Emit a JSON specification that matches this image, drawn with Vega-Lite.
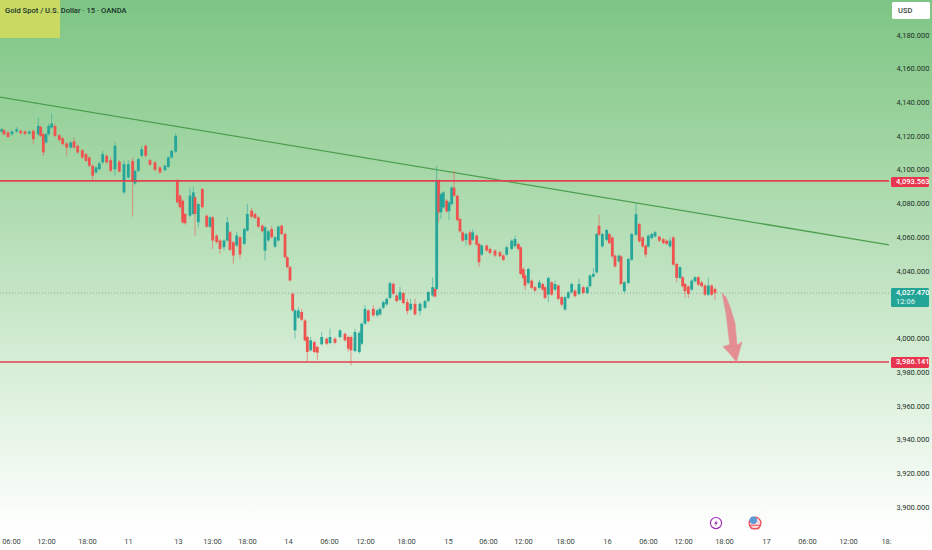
{
  "$schema": "https://vega.github.io/schema/vega-lite/v6.json",
  "autosize": {"type": "none"},
  "width": 932,
  "height": 550,
  "padding": 0,
  "background": "#ffffff",
  "view": {"stroke": null},
  "config": {"font": "Roboto"},
  "datasets": {
    "candles": [
      {"t":1,"o":4122.8,"h":4125.2,"l":4121.8,"c":4124.2},{"t":2.4,"o":4123.6,"h":4124.6,"l":4120.4,"c":4121.2},{"t":4.8,"o":4122.2,"h":4123.2,"l":4118.8,"c":4119.6},{"t":7.2,"o":4121.2,"h":4123.6,"l":4120.2,"c":4122.8},{"t":10,"o":4122.8,"h":4125.4,"l":4122,"c":4124.2},{"t":12.4,"o":4123.2,"h":4124,"l":4121,"c":4121.8},{"t":15,"o":4122.8,"h":4123.6,"l":4120.6,"c":4121.4},{"t":17.6,"o":4121.6,"h":4123.6,"l":4120.8,"c":4122.8},{"t":20,"o":4123.2,"h":4124,"l":4115.3,"c":4118.2},{"t":23,"o":4121.2,"h":4131,"l":4120.4,"c":4126.1},{"t":24.4,"o":4125.5,"h":4126.5,"l":4119.4,"c":4120.2},{"t":26,"o":4121.2,"h":4122,"l":4108.4,"c":4110.4},{"t":27.6,"o":4116.3,"h":4122,"l":4115.5,"c":4121.2},{"t":29.2,"o":4121.2,"h":4127.5,"l":4120.4,"c":4126.1},{"t":31,"o":4125.1,"h":4133.4,"l":4124.3,"c":4127.5},{"t":33,"o":4126.1,"h":4127.5,"l":4119.4,"c":4120.2},{"t":35.6,"o":4120.6,"h":4121.4,"l":4116.9,"c":4117.7},{"t":37.6,"o":4118.8,"h":4119.6,"l":4114.5,"c":4115.3},{"t":40,"o":4115.7,"h":4116.5,"l":4108.4,"c":4113.3},{"t":42.4,"o":4113.3,"h":4117.1,"l":4112.5,"c":4116.3},{"t":44.4,"o":4116.9,"h":4119.2,"l":4112.5,"c":4113.3},{"t":46.6,"o":4114.3,"h":4115.1,"l":4109.6,"c":4110.4},{"t":49.4,"o":4111.7,"h":4112.5,"l":4106.6,"c":4107.4},{"t":51.6,"o":4109.4,"h":4110.2,"l":4104.6,"c":4105.4},{"t":53.6,"o":4107.4,"h":4108.2,"l":4101.7,"c":4102.5},{"t":55.6,"o":4102.5,"h":4103.3,"l":4093.6,"c":4096.6},{"t":57.6,"o":4098.5,"h":4102.3,"l":4097.7,"c":4101.5},{"t":59.6,"o":4100.5,"h":4104.7,"l":4099.7,"c":4103.9},{"t":61.6,"o":4104.5,"h":4111.3,"l":4103.7,"c":4109.4},{"t":64,"o":4108.4,"h":4109.2,"l":4103.7,"c":4104.5},{"t":66.4,"o":4105.8,"h":4107.4,"l":4098.7,"c":4099.5},{"t":69,"o":4100.5,"h":4116.3,"l":4096.6,"c":4114.3},{"t":71.6,"o":4105,"h":4105.8,"l":4098.3,"c":4099.1},{"t":74.4,"o":4086.7,"h":4105.4,"l":4085.9,"c":4103.5},{"t":77,"o":4095.6,"h":4105.8,"l":4094.8,"c":4103.5},{"t":79.6,"o":4105.4,"h":4107.4,"l":4072.3,"c":4093.6},{"t":81,"o":4092,"h":4100.3,"l":4091.2,"c":4099.5},{"t":83,"o":4099.5,"h":4107.2,"l":4098.7,"c":4106.4},{"t":85,"o":4108.4,"h":4114.3,"l":4107.6,"c":4112.3},{"t":87.4,"o":4114.3,"h":4115.3,"l":4107.6,"c":4108.4},{"t":90,"o":4105.8,"h":4106.6,"l":4102.3,"c":4103.1},{"t":93,"o":4104.5,"h":4105.3,"l":4099.3,"c":4100.1},{"t":96,"o":4101.5,"h":4102.3,"l":4097.7,"c":4098.5},{"t":99,"o":4099.9,"h":4103.3,"l":4099.1,"c":4102.5},{"t":101,"o":4101.9,"h":4108.2,"l":4101.1,"c":4107.4},{"t":103,"o":4107.4,"h":4112.1,"l":4106.6,"c":4111.3},{"t":105.4,"o":4110.9,"h":4121.5,"l":4110.1,"c":4120.2},
      {"t":106.4,"o":4093.2,"h":4094.6,"l":4080,"c":4080.8},{"t":108,"o":4084.8,"h":4085.6,"l":4077.1,"c":4077.9},{"t":109.6,"o":4081.8,"h":4082.6,"l":4068.2,"c":4069},{"t":111,"o":4073.9,"h":4074.7,"l":4067.6,"c":4068.4},{"t":114,"o":4072.9,"h":4089.7,"l":4072.1,"c":4084.8},{"t":116,"o":4073.9,"h":4090.1,"l":4073.1,"c":4086.7},{"t":117,"o":4083.8,"h":4084.6,"l":4061.1,"c":4073.9},{"t":119,"o":4069,"h":4080.6,"l":4066,"c":4079.8},{"t":121.4,"o":4088.7,"h":4089.3,"l":4077.1,"c":4077.9},{"t":124,"o":4072.9,"h":4073.7,"l":4065.6,"c":4066.4},{"t":126,"o":4066.4,"h":4072.7,"l":4065.6,"c":4071.9},{"t":127.6,"o":4071.9,"h":4072.7,"l":4053.2,"c":4058.2},{"t":130,"o":4061.1,"h":4061.9,"l":4056.4,"c":4057.2},{"t":132,"o":4058.2,"h":4059,"l":4050.3,"c":4053.2},{"t":134.4,"o":4054.2,"h":4059,"l":4052.2,"c":4058.2},{"t":136.4,"o":4058.2,"h":4072.3,"l":4057.4,"c":4069},{"t":138,"o":4063.1,"h":4063.9,"l":4051.8,"c":4052.6},{"t":140,"o":4057.2,"h":4058,"l":4044.4,"c":4049.3},{"t":142,"o":4055.2,"h":4063.1,"l":4054.4,"c":4061.1},{"t":144,"o":4060.1,"h":4060.9,"l":4047.3,"c":4049.9},{"t":146.6,"o":4056.2,"h":4065.8,"l":4055.4,"c":4065},{"t":148.4,"o":4064.1,"h":4079.8,"l":4063.3,"c":4073.9},{"t":151,"o":4075.9,"h":4077.5,"l":4071.5,"c":4072.3},{"t":153,"o":4073.9,"h":4074.7,"l":4070.8,"c":4071.6},{"t":155,"o":4071.9,"h":4072.7,"l":4065.6,"c":4066.4},{"t":157.4,"o":4067,"h":4067.8,"l":4062.9,"c":4063.7},{"t":159,"o":4052.2,"h":4066.8,"l":4046.3,"c":4066},{"t":161,"o":4058.2,"h":4064.5,"l":4057.4,"c":4063.7},{"t":163,"o":4065,"h":4067,"l":4059.3,"c":4060.1},{"t":165,"o":4054.6,"h":4060.9,"l":4053.8,"c":4060.1},{"t":167,"o":4058.2,"h":4067.2,"l":4057.4,"c":4066.4},{"t":169,"o":4067,"h":4067.6,"l":4061.3,"c":4062.1},{"t":171,"o":4062.1,"h":4062.9,"l":4047.5,"c":4048.3},{"t":172.4,"o":4048.3,"h":4049.1,"l":4041.6,"c":4042.4},{"t":174,"o":4042.4,"h":4043.2,"l":4033.7,"c":4034.5},
      {"t":175.6,"o":4026.6,"h":4027.4,"l":4015.9,"c":4016.7},{"t":177,"o":4004.9,"h":4017.7,"l":4000,"c":4016.7},{"t":179,"o":4012.4,"h":4018.7,"l":4011.6,"c":4016.7},{"t":181,"o":4015.8,"h":4017.7,"l":4010.4,"c":4011.2},{"t":183,"o":4010.8,"h":4011.6,"l":3998.2,"c":3999},{"t":184.4,"o":4001,"h":4001.8,"l":3986.2,"c":3992.1},{"t":186.4,"o":3993.1,"h":4001,"l":3992.3,"c":3999},{"t":188.6,"o":3998,"h":3998.8,"l":3991.3,"c":3992.1},{"t":190.4,"o":3995.1,"h":3995.9,"l":3987.2,"c":3991.7},{"t":193,"o":3996.7,"h":4003.9,"l":3995.9,"c":4001},{"t":196,"o":4000,"h":4000.8,"l":3996.2,"c":3997},{"t":198,"o":3997.4,"h":4005.9,"l":3996.6,"c":4001},{"t":201,"o":4000,"h":4000.8,"l":3996.8,"c":3997.6},{"t":204,"o":4001,"h":4005.7,"l":4000.2,"c":4004.9},{"t":207,"o":4002.9,"h":4003.7,"l":3998.2,"c":3999},{"t":209,"o":4001,"h":4001.8,"l":3992.3,"c":3994.1},{"t":210.6,"o":4001,"h":4001.8,"l":3984.2,"c":3993.1},{"t":213,"o":3992.7,"h":4005.9,"l":3991.9,"c":4003.9},{"t":215.6,"o":3992.1,"h":4004.5,"l":3991.1,"c":4003.4},{"t":217,"o":3997,"h":4009.7,"l":3996.2,"c":4008.9},{"t":219,"o":4008.9,"h":4019.7,"l":4008.1,"c":4017.7},{"t":221,"o":4016.7,"h":4017.5,"l":4009.6,"c":4010.4},{"t":224,"o":4017.7,"h":4019.7,"l":4013,"c":4013.8},{"t":226.4,"o":4013.8,"h":4017.5,"l":4013,"c":4016.7},{"t":228,"o":4014.4,"h":4018.5,"l":4013.6,"c":4017.7},{"t":230,"o":4018.3,"h":4022.5,"l":4017.5,"c":4021.7},{"t":232,"o":4020.3,"h":4024.4,"l":4019.5,"c":4023.6},{"t":234,"o":4024.2,"h":4033.7,"l":4023.4,"c":4032.9},{"t":236,"o":4032.5,"h":4033.3,"l":4025.8,"c":4026.6},{"t":238,"o":4025.6,"h":4026.4,"l":4021.5,"c":4022.3},{"t":240,"o":4023.1,"h":4030.6,"l":4022.3,"c":4027.6},{"t":242,"o":4027,"h":4027.8,"l":4020.3,"c":4021.1},{"t":244.4,"o":4021.7,"h":4023.6,"l":4014.4,"c":4016.4},{"t":246.4,"o":4017.3,"h":4023.6,"l":4016.5,"c":4020.7},{"t":249,"o":4020.7,"h":4023.6,"l":4013.6,"c":4014.4},{"t":252,"o":4016.4,"h":4021.5,"l":4013.8,"c":4020.7},{"t":255,"o":4018.3,"h":4023.1,"l":4017.5,"c":4022.3},{"t":257,"o":4022.3,"h":4028.4,"l":4021.5,"c":4027.6},{"t":259.6,"o":4025.6,"h":4036.1,"l":4024.8,"c":4030.5},{"t":261,"o":4029.5,"h":4030.3,"l":4024.2,"c":4025},{"t":262,"o":4029.5,"h":4102.4,"l":4028.7,"c":4093.6},{"t":263.2,"o":4093.6,"h":4094.4,"l":4069,"c":4074.9},{"t":264.6,"o":4074.9,"h":4086.5,"l":4070.9,"c":4085.7},{"t":266,"o":4077.8,"h":4087.5,"l":4077,"c":4086.7},{"t":268,"o":4081.8,"h":4082.6,"l":4074.7,"c":4075.5},{"t":269.4,"o":4075.5,"h":4081.6,"l":4070.3,"c":4080.8},{"t":271,"o":4079.8,"h":4090.4,"l":4079,"c":4089.6},{"t":272.4,"o":4089.6,"h":4099.5,"l":4083.9,"c":4084.7},{"t":274.4,"o":4084.7,"h":4085.5,"l":4069.5,"c":4070.3},{"t":276,"o":4070.9,"h":4071.7,"l":4062.8,"c":4063.6},{"t":277.6,"o":4063,"h":4063.8,"l":4057.3,"c":4058.1},{"t":279.6,"o":4058.5,"h":4062.9,"l":4055.2,"c":4062.1},{"t":282,"o":4063,"h":4064.4,"l":4055,"c":4055.8},{"t":283.6,"o":4058.7,"h":4064.8,"l":4057.9,"c":4063},{"t":286,"o":4061.1,"h":4061.9,"l":4055,"c":4055.8},{"t":287.4,"o":4056.2,"h":4057,"l":4042.4,"c":4045.3},{"t":289,"o":4049.8,"h":4056,"l":4049,"c":4055.2},{"t":292,"o":4055.2,"h":4056,"l":4051.4,"c":4052.2},{"t":294,"o":4053.2,"h":4054,"l":4050,"c":4050.8},{"t":297,"o":4052.2,"h":4053,"l":4048.5,"c":4049.3},{"t":300,"o":4051.2,"h":4052,"l":4048.1,"c":4048.9},{"t":302,"o":4049.3,"h":4050.1,"l":4045.9,"c":4046.7},{"t":304,"o":4049.8,"h":4055,"l":4049,"c":4054.2},{"t":307,"o":4053.2,"h":4058.9,"l":4052.4,"c":4058.1},{"t":309,"o":4054.8,"h":4061.1,"l":4054,"c":4059.1},{"t":311,"o":4056.1,"h":4056.9,"l":4052.4,"c":4053.2},
      {"t":312.4,"o":4054.1,"h":4054.9,"l":4037.6,"c":4038.4},{"t":314,"o":4041.3,"h":4042.3,"l":4035.2,"c":4036},{"t":315,"o":4037.4,"h":4038.2,"l":4028.9,"c":4031.5},{"t":317,"o":4033,"h":4042.1,"l":4032.2,"c":4041.3},{"t":319,"o":4034.4,"h":4035.2,"l":4029.3,"c":4030.1},{"t":321,"o":4030.5,"h":4031.3,"l":4027.7,"c":4028.5},{"t":323.6,"o":4030.1,"h":4034.8,"l":4029.3,"c":4033.4},{"t":325.6,"o":4032.4,"h":4033.2,"l":4028.3,"c":4029.1},{"t":327,"o":4030.5,"h":4031.3,"l":4023.4,"c":4024.2},{"t":329,"o":4026.1,"h":4036.8,"l":4021.6,"c":4036},{"t":331,"o":4033.4,"h":4034.2,"l":4025.3,"c":4026.1},{"t":333,"o":4029.1,"h":4034.4,"l":4028.3,"c":4032.4},{"t":335,"o":4031.5,"h":4032.3,"l":4022.8,"c":4023.6},{"t":337,"o":4024.6,"h":4025.4,"l":4019,"c":4020.2},{"t":339,"o":4017.3,"h":4025.4,"l":4016.5,"c":4024.6},{"t":341,"o":4024.2,"h":4028.3,"l":4023.4,"c":4027.5},{"t":343,"o":4027.5,"h":4033.4,"l":4026.7,"c":4032.4},{"t":345,"o":4028.5,"h":4029.3,"l":4024.4,"c":4025.2},{"t":347.4,"o":4026.5,"h":4035.4,"l":4025.7,"c":4032.4},{"t":350,"o":4030.5,"h":4031.3,"l":4026.3,"c":4027.1},{"t":352.4,"o":4027.1,"h":4031.3,"l":4026.3,"c":4030.5},{"t":354,"o":4031.1,"h":4038.2,"l":4030.3,"c":4037.4},{"t":356,"o":4036.8,"h":4041.9,"l":4036,"c":4038.4},{"t":358,"o":4039.3,"h":4062.8,"l":4038.5,"c":4062},{"t":359.4,"o":4066.9,"h":4073.4,"l":4060.8,"c":4061.6},{"t":361.4,"o":4054.7,"h":4062.8,"l":4053.9,"c":4062},{"t":364,"o":4058.6,"h":4065.2,"l":4057.8,"c":4064.4},{"t":365.6,"o":4062,"h":4062.8,"l":4055.9,"c":4056.7},{"t":367.4,"o":4060,"h":4060.8,"l":4048,"c":4048.8},{"t":369,"o":4049.2,"h":4050,"l":4042.1,"c":4042.9},{"t":371.4,"o":4045.8,"h":4050,"l":4045,"c":4049.2},{"t":372.6,"o":4048.8,"h":4049.6,"l":4031.6,"c":4032.4},{"t":374.6,"o":4028.1,"h":4034.2,"l":4027.3,"c":4033.4},{"t":377,"o":4033,"h":4048,"l":4032.2,"c":4047.2},{"t":379,"o":4046.8,"h":4062.8,"l":4046,"c":4062},{"t":381.6,"o":4061.6,"h":4080.1,"l":4060.8,"c":4073.8},{"t":383.6,"o":4067.9,"h":4068.7,"l":4056.9,"c":4057.7},{"t":385.6,"o":4060,"h":4060.8,"l":4053.9,"c":4054.7},{"t":387.4,"o":4055.1,"h":4055.9,"l":4048.2,"c":4049.8},{"t":389,"o":4054.7,"h":4061.8,"l":4053.9,"c":4061},{"t":391,"o":4059.6,"h":4062.8,"l":4058.8,"c":4062},{"t":393,"o":4060.6,"h":4063.8,"l":4059.8,"c":4063},{"t":395.6,"o":4060.4,"h":4061.2,"l":4057.3,"c":4058.1},{"t":398,"o":4059,"h":4059.8,"l":4055.9,"c":4056.7},{"t":400,"o":4058.1,"h":4058.9,"l":4055.3,"c":4056.1},{"t":402,"o":4054.7,"h":4060,"l":4053.9,"c":4058.1},{"t":404,"o":4060,"h":4060.8,"l":4043.1,"c":4043.9},{"t":406,"o":4044.3,"h":4045.1,"l":4033.4,"c":4036},{"t":408,"o":4036,"h":4043.1,"l":4035.2,"c":4042.3},{"t":409.6,"o":4036.4,"h":4037.2,"l":4030.3,"c":4031.1},{"t":411,"o":4032.4,"h":4033.2,"l":4024.6,"c":4028.1},{"t":413,"o":4030.9,"h":4031.7,"l":4024.2,"c":4026.5},{"t":415,"o":4029.1,"h":4035.2,"l":4028.3,"c":4034.4},{"t":417,"o":4034,"h":4037.2,"l":4033.2,"c":4036.4},{"t":419,"o":4036.4,"h":4037.2,"l":4031.2,"c":4032},{"t":421,"o":4033.4,"h":4034.2,"l":4030.3,"c":4031.1},{"t":423,"o":4031.5,"h":4032.3,"l":4025.3,"c":4026.1},{"t":425,"o":4026.1,"h":4036,"l":4025.3,"c":4031.5},{"t":427,"o":4031.5,"h":4032.3,"l":4025.3,"c":4026.1},{"t":429,"o":4029.5,"h":4030.3,"l":4023,"c":4027.1}
    ],
    "levels": [
      {"t":0,"p":4093.563,"level":"resistance"},{"t":533.4,"p":4093.563,"level":"resistance"},
      {"t":0,"p":3986.141,"level":"support"},{"t":533.4,"p":3986.141,"level":"support"}
    ],
    "tags": [
      {"t0":534.6,"t1":557.4,"p0":4095.8,"p1":4089.9,"kind":"red"},
      {"t0":534.6,"t1":557.4,"p0":3989.1,"p1":3982.6,"kind":"red"},
      {"t0":534.6,"t1":557.4,"p0":4030,"p1":4018.8,"kind":"teal"},
      {"t0":535.2,"t1":558,"p0":4199.6,"p1":4189.5,"kind":"white"}
    ],
    "tagText": [
      {"t":537.6,"p":4092.9,"label":"4,093.563","kind":"white"},
      {"t":537.6,"p":3985.9,"label":"3,986.141","kind":"white"},
      {"t":537.6,"p":4027,"label":"4,027.470","kind":"white"},
      {"t":537.6,"p":4021.7,"label":"12:06","kind":"pale"},
      {"t":538.8,"p":4194.2,"label":"USD","kind":"dark"}
    ],
    "arrow": [
      {"t":433.2,"p":4027,"p2":4027,"part":"shaft"},
      {"t":435.6,"p":4024.7,"p2":4015.2,"part":"shaft"},
      {"t":438,"p":4018.8,"p2":3995,"part":"shaft"},
      {"t":441,"p":4009.3,"p2":3995,"part":"shaft"},
      {"t":442.2,"p":3996.2,"p2":3995,"part":"shaft"},
      {"t":433.8,"p":3995.2,"p2":3995.2,"part":"head"},
      {"t":437.4,"p":3996.4,"p2":3991.6,"part":"head"},
      {"t":441.9,"p":3995.9,"p2":3986.1,"part":"head"},
      {"t":445.2,"p":3998.2,"p2":3998.2,"part":"head"}
    ]
  },
  "data": {"name": "candles"},
  "encoding": {
    "x": {
      "field": "t",
      "type": "quantitative",
      "scale": {"domain": [0, 559.2], "nice": false, "zero": false, "padding": 0},
      "axis": {
        "title": null,
        "orient": "bottom",
        "domain": false,
        "ticks": false,
        "grid": false,
        "zindex": 1,
        "values": [6.6, 27.6, 52.2, 76.8, 106.8, 127.2, 148.2, 172.8, 197.4, 219, 243.6, 268.8, 292.8, 313.8, 339, 364.2, 388.8, 409.8, 434.4, 459.6, 484.2, 508.8, 531.6],
        "labelExpr": "({'6.6':'06:00','27.6':'12:00','52.2':'18:00','76.8':'11','106.8':'13','127.2':'13:00','148.2':'18:00','172.8':'14','197.4':'06:00','219':'12:00','243.6':'18:00','268.8':'15','292.8':'06:00','313.8':'12:00','339':'18:00','364.2':'16','388.8':'06:00','409.8':'12:00','434.4':'18:00','459.6':'17','484.2':'06:00','508.8':'12:00','531.6':'18:'})[datum.value]",
        "labelOverlap": false,
        "labelFlush": false,
        "labelPadding": -9,
        "labelBaseline": "middle",
        "labelFontSize": 7.5,
        "labelColor": "#3c4a44"
      }
    },
    "y": {
      "field": "p",
      "type": "quantitative",
      "scale": {"domain": [3874.73, 4200.75], "nice": false, "zero": false},
      "axis": {
        "title": null,
        "orient": "right",
        "domain": false,
        "ticks": false,
        "grid": false,
        "zindex": 1,
        "values": [3900, 3920, 3940, 3960, 3980, 4000, 4040, 4060, 4080, 4100, 4120, 4140, 4160, 4180],
        "format": ",.3f",
        "labelOverlap": false,
        "labelFlush": false,
        "labelPadding": -36,
        "labelAlign": "left",
        "labelFontSize": 7.5,
        "labelColor": "#1f3328"
      }
    }
  },
  "layer": [
    {
      "data": {"values": [{"t": 0, "t1": 559.2, "p": 3874.73, "p1": 4200.75}]},
      "mark": {
        "type": "rect",
        "fill": {
          "gradient": "linear", "x1": 0, "y1": 0, "x2": 0, "y2": 1,
          "stops": [
            {"offset": 0, "color": "#7dc584"},
            {"offset": 0.25, "color": "#9ed4a0"},
            {"offset": 0.5, "color": "#c0e3c1"},
            {"offset": 0.75, "color": "#e2f3e2"},
            {"offset": 0.97, "color": "#ffffff"},
            {"offset": 1, "color": "#ffffff"}
          ]
        }
      },
      "encoding": {"x2": {"field": "t1"}, "y2": {"field": "p1"}}
    },
    {
      "data": {"values": [{"t": 0, "t1": 36, "p": 4178.2, "p1": 4200.75}]},
      "mark": {"type": "rect", "fill": "#c9d962"},
      "encoding": {"x2": {"field": "t1"}, "y2": {"field": "p1"}}
    },
    {
      "data": {"values": [{"t": 0, "p": 4143.2}, {"t": 533.4, "p": 4055.6}]},
      "mark": {"type": "line", "color": "#4c9f50", "strokeWidth": 1.3},
      "encoding": {}
    },
    {
      "data": {"values": [{"t": 0, "p": 4027}, {"t": 533.4, "p": 4027}]},
      "mark": {"type": "line", "color": "#8a9a90", "strokeWidth": 0.8, "strokeDash": [1, 2]},
      "encoding": {}
    },
    {
      "mark": {"type": "rule", "strokeWidth": 0.8, "opacity": 0.7},
      "encoding": {
        "y": {"field": "l", "type": "quantitative"},
        "y2": {"field": "h"},
        "color": {"condition": {"test": "datum.c >= datum.o", "value": "#26a69a"}, "value": "#ef5350"}
      }
    },
    {
      "mark": {"type": "bar", "size": 2.8},
      "encoding": {
        "y": {"field": "o", "type": "quantitative"},
        "y2": {"field": "c"},
        "color": {"condition": {"test": "datum.c >= datum.o", "value": "#26a69a"}, "value": "#ef5350"}
      }
    },
    {
      "data": {"name": "levels"},
      "mark": {"type": "line", "color": "#e2404f", "strokeWidth": 1.6},
      "encoding": {"detail": {"field": "level"}}
    },
    {
      "data": {"name": "arrow"},
      "mark": {"type": "area", "color": "#e58a90", "stroke": "#e58a90", "strokeWidth": 0.5, "opacity": 0.95},
      "encoding": {"y2": {"field": "p2"}, "detail": {"field": "part"}}
    },
    {
      "data": {"name": "tags"},
      "mark": {"type": "rect", "cornerRadius": 1.5},
      "encoding": {
        "x": {"field": "t0", "type": "quantitative"},
        "x2": {"field": "t1"},
        "y": {"field": "p0", "type": "quantitative"},
        "y2": {"field": "p1"},
        "color": {
          "field": "kind",
          "type": "nominal",
          "legend": null,
          "scale": {"domain": ["red", "teal", "white"], "range": ["#e8364f", "#22a596", "#ffffff"]}
        }
      }
    },
    {
      "data": {"name": "tagText"},
      "mark": {"type": "text", "align": "left", "fontSize": 7.5, "fontWeight": 500},
      "encoding": {
        "text": {"field": "label"},
        "fill": {
          "field": "kind",
          "type": "nominal",
          "legend": null,
          "scale": {"domain": ["white", "pale", "dark"], "range": ["#ffffff", "#c9ece6", "#3a4640"]}
        }
      }
    },
    {
      "data": {"values": [{"t": 3, "p": 4194.4, "label": "Gold Spot / U.S. Dollar · 15 · OANDA"}]},
      "mark": {"type": "text", "align": "left", "fontSize": 7.6, "fontWeight": 500, "color": "#17332a"},
      "encoding": {"text": {"field": "label"}}
    },
    {
      "data": {"values": [{"t": 429.6, "p": 3890.7}]},
      "mark": {"type": "point", "shape": "circle", "size": 125, "fill": "#ffffff", "fillOpacity": 0.5, "stroke": "#9c27b0", "strokeWidth": 1.1},
      "encoding": {}
    },
    {
      "data": {"values": [{"t": 429.6, "p": 3890.7}]},
      "mark": {"type": "point", "shape": "M 0.25 -1 L -0.6 0.2 L -0.05 0.2 L -0.25 1 L 0.6 -0.2 L 0.05 -0.2 Z", "size": 40, "filled": true, "fill": "#9c27b0", "opacity": 1},
      "encoding": {}
    },
    {
      "data": {"values": [{"t": 453, "p": 3890.7}]},
      "mark": {"type": "point", "shape": "circle", "size": 140, "filled": true, "fill": "#fbdada", "stroke": "#e8505b", "strokeWidth": 1.3, "opacity": 1},
      "encoding": {}
    },
    {
      "data": {"values": [{"t": 449.8, "p": 3889.4, "t1": 456.2}, {"t": 450.4, "p": 3887.4, "t1": 455.6}]},
      "mark": {"type": "rule", "color": "#e8505b", "strokeWidth": 1},
      "encoding": {"x2": {"field": "t1"}}
    },
    {
      "data": {"values": [{"t": 452, "p": 3892.4}]},
      "mark": {"type": "point", "shape": "circle", "size": 55, "filled": true, "fill": "#5b9bd5", "opacity": 1},
      "encoding": {}
    }
  ]
}
